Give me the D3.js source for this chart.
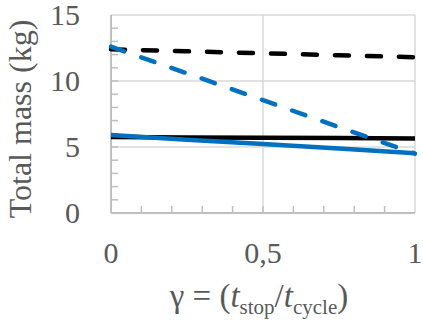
<!DOCTYPE html>
<html lang="en">
<head>
  <meta charset="UTF-8">
  <title>Total mass</title>
  <style>
    *{ margin:0; padding:0; }
    body{ background:#fff; overflow:hidden; }
    svg{ display:block; }
    text{ font-family:"Liberation Serif","Times New Roman",serif; fill:#595959; }
  </style>
  <script src="https://cdn.jsdelivr.net/npm/d3@7"></script>
</head>
<body>
  <svg id="mainsvg"></svg>
  <script>
    const width = 423, height = 323
    const margin = { left:111, top:15, right:8, bottom:110 }

    // data
    const gamma        = [0, 0.25, 0.5, 0.75, 1]
    const blackSolid   = [5.75, 5.72, 5.7, 5.68, 5.65]
    const blackDashed  = [12.4, 12.25, 12.1, 11.95, 11.8]
    const blueSolid    = [5.9, 5.55, 5.22, 4.88, 4.52]
    const blueDashed   = [12.6, 10.58, 8.55, 6.5, 4.5]
    const yTicks = [0, 5, 10, 15]
    const xTicks = [0, 0.5, 1]
    const xTickLabels = ['0', '0,5', '1']

    const svg = d3.select('#mainsvg').attr('width', width).attr('height', height)
    const innerWidth = width - margin.left - margin.right
    const innerHeight = height - margin.top - margin.bottom

    const g = svg.append('g').attr('transform', `translate(${margin.left},${margin.top})`)

    const x = d3.scaleLinear().domain([0, 1]).range([0, innerWidth])
    const y = d3.scaleLinear().domain([0, 15]).range([innerHeight, 0])

    // grid
    g.selectAll('.hgrid').data(yTicks.filter(d => d > 0)).join('line')
      .attr('x1', 0).attr('x2', innerWidth)
      .attr('y1', d => y(d)).attr('y2', d => y(d))
      .attr('stroke', '#d9d9d9').attr('stroke-width', 1.5)
    g.selectAll('.vgrid').data(xTicks.filter(d => d > 0)).join('line')
      .attr('x1', d => x(d)).attr('x2', d => x(d))
      .attr('y1', 0).attr('y2', innerHeight)
      .attr('stroke', '#d9d9d9').attr('stroke-width', 1.5)

    // minor ticks
    g.selectAll('.ymin').data(d3.range(1, 15)).join('line')
      .attr('x1', 0).attr('x2', 7)
      .attr('y1', d => y(d)).attr('y2', d => y(d))
      .attr('stroke', '#bfbfbf').attr('stroke-width', 1.5)
    g.selectAll('.xmin').data(d3.range(1, 10).map(d => d / 10)).join('line')
      .attr('x1', d => x(d)).attr('x2', d => x(d))
      .attr('y1', innerHeight).attr('y2', innerHeight - 7)
      .attr('stroke', '#bfbfbf').attr('stroke-width', 1.5)

    // axes lines
    g.append('line').attr('x1', 0).attr('x2', 0).attr('y1', 0).attr('y2', innerHeight)
      .attr('stroke', '#bfbfbf').attr('stroke-width', 2)
    g.append('line').attr('x1', 0).attr('x2', innerWidth).attr('y1', innerHeight).attr('y2', innerHeight)
      .attr('stroke', '#bfbfbf').attr('stroke-width', 2)

    // series
    const line = d3.line().x((d, i) => x(gamma[i])).y(d => y(d))
    const series = [
      { v: blackDashed, c: '#000', dash: '14,18' },
      { v: blackSolid,  c: '#000', dash: null },
      { v: blueDashed,  c: '#0070c0', dash: '14,18' },
      { v: blueSolid,   c: '#0070c0', dash: null }
    ]
    g.selectAll('.series').data(series).join('path')
      .attr('fill', 'none')
      .attr('stroke', d => d.c)
      .attr('stroke-width', 4.5)
      .attr('stroke-linecap', d => d.dash ? 'round' : 'butt')
      .attr('stroke-dasharray', d => d.dash)
      .attr('d', d => line(d.v))

    // tick labels
    g.selectAll('.ylab').data(yTicks).join('text')
      .attr('x', -31).attr('y', d => y(d) + 10)
      .attr('text-anchor', 'end').attr('font-size', 30)
      .text(d => d)
    g.selectAll('.xlab').data(xTicks).join('text')
      .attr('x', d => x(d)).attr('y', innerHeight + 50)
      .attr('text-anchor', 'middle').attr('font-size', 30)
      .text((d, i) => xTickLabels[i])

    // axis titles
    svg.append('text')
      .attr('transform', `translate(31,119) rotate(-90)`)
      .attr('text-anchor', 'middle').attr('font-size', 32)
      .text('Total mass (kg)')

    const xt = svg.append('text')
      .attr('x', 259).attr('y', 307)
      .attr('text-anchor', 'middle').attr('font-size', 33)
    xt.append('tspan').text('γ = (')
    xt.append('tspan').attr('font-style', 'italic').text('t')
    xt.append('tspan').attr('font-size', 21).attr('dy', 7).text('stop')
    xt.append('tspan').attr('dy', -7).text('/')
    xt.append('tspan').attr('font-style', 'italic').text('t')
    xt.append('tspan').attr('font-size', 21).attr('dy', 7).text('cycle')
    xt.append('tspan').attr('dy', -7).text(')')
  </script>
</body>
</html>
